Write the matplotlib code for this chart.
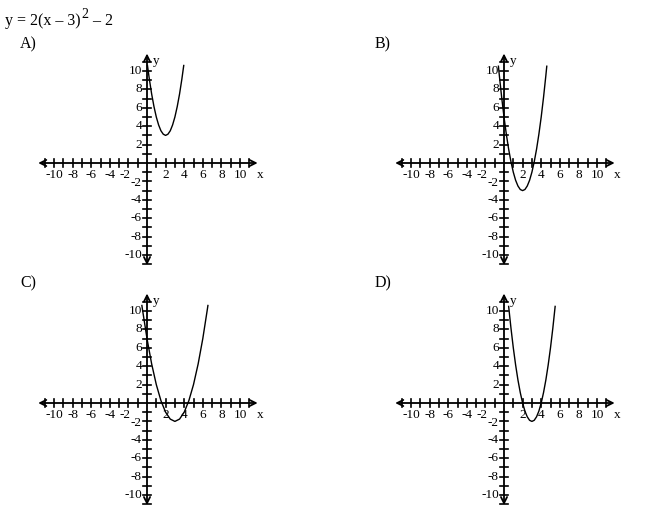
import matplotlib
matplotlib.use("Agg")
import matplotlib.pyplot as plt

plt.rcParams["font.family"] = ["Liberation Serif", "DejaVu Serif"]

TITLE_MAIN = "y = 2(x \u2013 3)"
TITLE_SUP = "2"
TITLE_TAIL = " \u2013 2"
PANEL_LABELS = ["A)", "B)", "C)", "D)"]

# tick labels shown on both axes
TICK_VALUES = [-10, -8, -6, -4, -2, 2, 4, 6, 8, 10]

# curve points
A_X = [0.05, 0.25, 0.5, 0.75, 1.0, 1.25, 1.5, 1.75, 2.0, 2.25, 2.5, 2.75, 3.0, 3.25, 3.5, 3.75, 3.95]
A_Y = [10.6, 9.13, 7.5, 6.13, 5.0, 4.13, 3.5, 3.13, 3.0, 3.13, 3.5, 4.13, 5.0, 6.13, 7.5, 9.13, 10.6]

B_X = [-0.6, -0.5, -0.25, 0.0, 0.25, 0.5, 0.75, 1.0, 1.25, 1.5, 1.75, 2.0,
       2.25, 2.5, 2.75, 3.0, 3.25, 3.5, 3.75, 4.0, 4.25, 4.5, 4.6]
B_Y = [10.52, 9.5, 7.13, 5.0, 3.13, 1.5, 0.13, -1.0, -1.88, -2.5, -2.88, -3.0,
       -2.88, -2.5, -1.88, -1.0, 0.13, 1.5, 3.13, 5.0, 7.13, 9.5, 10.52]

C_X = [-0.55, -0.5, 0.0, 0.5, 1.0, 1.5, 2.0, 2.5, 3.0, 3.5, 4.0, 4.5, 5.0, 5.5, 6.0, 6.5, 6.55]
C_Y = [10.6, 10.25, 7.0, 4.25, 2.0, 0.25, -1.0, -1.75, -2.0, -1.75, -1.0, 0.25, 2.0, 4.25, 7.0, 10.25, 10.6]

D_X = [0.5, 0.75, 1.0, 1.25, 1.5, 1.75, 2.0, 2.25, 2.5, 2.75, 3.0,
       3.25, 3.5, 3.75, 4.0, 4.25, 4.5, 4.75, 5.0, 5.25, 5.5]
D_Y = [10.5, 8.13, 6.0, 4.13, 2.5, 1.13, 0.0, -0.88, -1.5, -1.88, -2.0,
       -1.88, -1.5, -0.88, 0.0, 1.13, 2.5, 4.13, 6.0, 8.13, 10.5]

CURVES = [(A_X, A_Y), (B_X, B_Y), (C_X, C_Y), (D_X, D_Y)]

W, H = 650, 513
SX, SY = 9.3, 9.2  # pixels per unit
ORIGINS = [(147, 163), (504, 163), (147, 403), (504, 403)]
LABEL_POS = [(20, 44), (375, 44), (20, 283), (375, 283)]

fig = plt.figure(figsize=(W / 100, H / 100), dpi=100)
renderer = fig.canvas.get_renderer()

# title drawn in three pieces so the exponent stays nearly full size
t1 = fig.text(5 / W, 1 - 21 / H, TITLE_MAIN, fontsize=11.5, ha="left", va="center")
x_px = t1.get_window_extent(renderer).x1
t2 = fig.text(x_px / W + 1 / W, 1 - 15 / H, TITLE_SUP, fontsize=10, ha="left", va="center")
x_px = t2.get_window_extent(renderer).x1
fig.text(x_px / W, 1 - 21 / H, TITLE_TAIL, fontsize=11.5, ha="left", va="center")

for (ox, oy), (lx, ly), label, (cx, cy) in zip(ORIGINS, LABEL_POS, PANEL_LABELS, CURVES):
    fig.text(lx / W, 1 - ly / H, label, fontsize=11.5, ha="left", va="center")

    x0, x1, y0, y1 = -13, 13.5, -12.5, 13
    left = (ox + x0 * SX) / W
    bottom = (H - oy + y0 * SY) / H
    ax = fig.add_axes([left, bottom, (x1 - x0) * SX / W, (y1 - y0) * SY / H])
    ax.set_xlim(x0, x1)
    ax.set_ylim(y0, y1)
    ax.axis("off")

    arrow = dict(arrowstyle="<->", lw=1.3, color="black", shrinkA=0, shrinkB=0,
                 mutation_scale=11)
    ax.annotate("", xy=(11.9, 0), xytext=(-11.7, 0), arrowprops=arrow)
    ax.annotate("", xy=(0, 11.9), xytext=(0, -11.1), arrowprops=arrow)

    for i in range(-11, 12):
        if i == 0:
            continue
        ax.plot([i, i], [-0.45, 0.45], color="black", lw=1.2)
        ax.plot([-0.45, 0.45], [i, i], color="black", lw=1.2)

    for v in TICK_VALUES:
        # nudge the x "-2" a little left of the y "-2" next to the origin
        xpos = v - 0.35 if v == -2 else v
        ax.text(xpos, -1.35, str(v), fontsize=9.5, ha="center", va="center")
        ax.text(-0.55, v - (0.15 if v == -2 else 0), str(v), fontsize=9.5,
                ha="right", va="center")
    ax.text(12.2, -1.25, "x", fontsize=9.5, ha="center", va="center")
    ax.text(0.6, 11.1, "y", fontsize=9.5, ha="left", va="center")

    ax.plot(cx, cy, color="black", lw=1.0)

fig.savefig("out.png", dpi=100)
